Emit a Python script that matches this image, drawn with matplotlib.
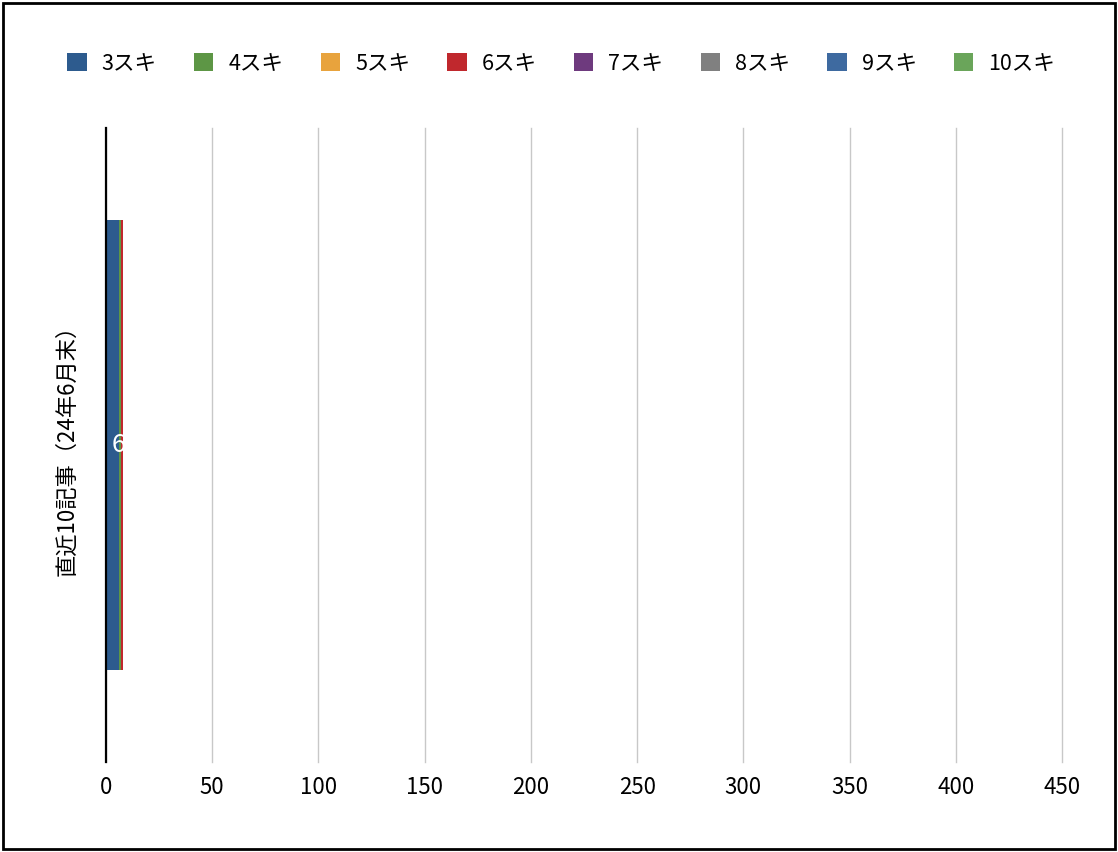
import matplotlib
matplotlib.use("Agg")
import matplotlib.pyplot as plt
from matplotlib.patches import Rectangle

plt.rcParams['font.family'] = ['Noto Sans CJK JP', 'DejaVu Sans']

category = "直近10記事（24年6月末）"
series = ["3スキ", "4スキ", "5スキ", "6スキ", "7スキ", "8スキ", "9スキ", "10スキ"]
values = [6, 1, 0, 1, 0, 0, 0, 0]
colors = ["#2d5b8e", "#5d9645", "#e8a33d", "#c0282d", "#6e3a7e", "#808080", "#3e6aa0", "#6aa55a"]
xticks = list(range(0, 451, 50))

fig = plt.figure(figsize=(11.18, 8.52), dpi=100)
ax = fig.add_axes([106/1118, 1 - 762/852, (1062 - 106)/1118, (762 - 128)/852])

left = 0
for name, v, c in zip(series, values, colors):
    ax.barh([0], [v], left=left, height=0.71, color=c, label=name)
    if v >= 5:
        ax.text(left + v / 2 + 3, 0, str(v), color="white", ha="center", va="center", fontsize=18)
    left += v

ax.set_xlim(0, 450)
ax.set_ylim(-0.5, 0.5)
ax.set_xticks(xticks)
ax.set_xticklabels([str(t) for t in xticks], fontsize=16)
ax.set_yticks([0])
ax.set_yticklabels([category], rotation=90, va="center", fontsize=16)
ax.tick_params(axis="both", length=0)
ax.tick_params(axis="x", pad=10)
ax.tick_params(axis="y", pad=20)
ax.grid(axis="x", color="#c8c8c8", linewidth=1)
for gl in ax.get_xgridlines():
    gl.set_clip_on(False)
ax.set_axisbelow(True)
for s in ["top", "right", "bottom"]:
    ax.spines[s].set_visible(False)
ax.spines["left"].set_color("black")
ax.spines["left"].set_linewidth(1.6)
ax.spines["left"].set_zorder(5)

fig.legend(loc="upper center", bbox_to_anchor=(0.502, 0.961), ncol=8, frameon=False,
           fontsize=15.5, handlelength=0.9, handleheight=0.9, handletextpad=0.7,
           columnspacing=1.73)

fig.patches.append(Rectangle((0.003, 0.004), 0.994, 0.992, transform=fig.transFigure,
                             fill=False, edgecolor="black", linewidth=2))

fig.savefig("out.png", dpi=100)
